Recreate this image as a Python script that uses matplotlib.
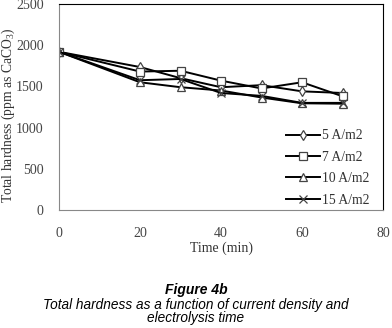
import matplotlib
matplotlib.use("Agg")
import matplotlib.pyplot as plt

time = [0, 20, 30, 40, 50, 60, 70]
s5 = [1920, 1735, 1600, 1490, 1515, 1440, 1420]
s7 = [1920, 1680, 1690, 1570, 1475, 1550, 1380]
s10 = [1920, 1550, 1490, 1450, 1365, 1295, 1290]
s15 = [1920, 1575, 1590, 1420, 1385, 1300, 1300]
labels = ["5 A/m2", "7 A/m2", "10 A/m2", "15 A/m2"]
markers = ["d", "s", "^", "x"]

serif = "Liberation Serif"
plt.rcParams["mathtext.fontset"] = "custom"
plt.rcParams["mathtext.rm"] = serif
plt.rcParams["mathtext.it"] = serif + ":italic"

fig = plt.figure(figsize=(3.92, 3.28), dpi=100)
ax = fig.add_axes([59/392, 1-210/328, (383-59)/392, (210-4)/328])

for ys, lab, m in zip([s5, s7, s10, s15], labels, markers):
    ms = 6 if m != "d" else 5
    ax.plot(time, ys, color="black", lw=1.4, marker=m, markersize=ms,
            markerfacecolor="white" if m != "x" else "none",
            markeredgecolor="#444444", markeredgewidth=0.9, label=lab)

ax.set_xlim(0, 80)
ax.set_ylim(0, 2500)
ax.set_xticks([0, 20, 40, 60, 80])
ax.set_yticks([0, 500, 1000, 1500, 2000, 2500])
ax.tick_params(length=0, labelsize=10, colors="#444444")
ax.tick_params(axis="x", pad=12)
ax.tick_params(axis="y", pad=11)
for t in ax.get_xticklabels() + ax.get_yticklabels():
    t.set_fontfamily(serif)
for s in ["left", "bottom"]:
    ax.spines[s].set_color("#888888")
for s in ["top", "right"]:
    ax.spines[s].set_color("black")
for s in ax.spines.values():
    s.set_linewidth(0.8)

ax.set_xlabel("Time (min)", fontfamily=serif, fontsize=10, color="#333333", labelpad=1)
ax.set_ylabel("Total hardness (ppm as CaCO$_3$)", fontfamily=serif, fontsize=9.8,
              color="#333333", va="center")
ax.yaxis.set_label_coords(-51/324, 0.46)

leg = ax.legend(loc="lower right", bbox_to_anchor=(0.975, -0.01), frameon=False,
                prop={"family": serif, "size": 9.8}, handlelength=2.5,
                handletextpad=0.15, labelspacing=0.62, borderaxespad=0.0)
for t in leg.get_texts():
    t.set_color("#333333")

fig.text(0.5, 1-290/328, "Figure 4b", ha="center", va="center",
         fontfamily="Liberation Sans", fontsize=10, fontstyle="italic", fontweight="bold")
fig.text(0.5, 1-305/328, "Total hardness as a function of current density and",
         ha="center", va="center", fontfamily="Liberation Sans", fontsize=9.8, fontstyle="italic")
fig.text(0.5, 1-318/328, "electrolysis time",
         ha="center", va="center", fontfamily="Liberation Sans", fontsize=9.8, fontstyle="italic")

fig.savefig("out.png", dpi=100)
